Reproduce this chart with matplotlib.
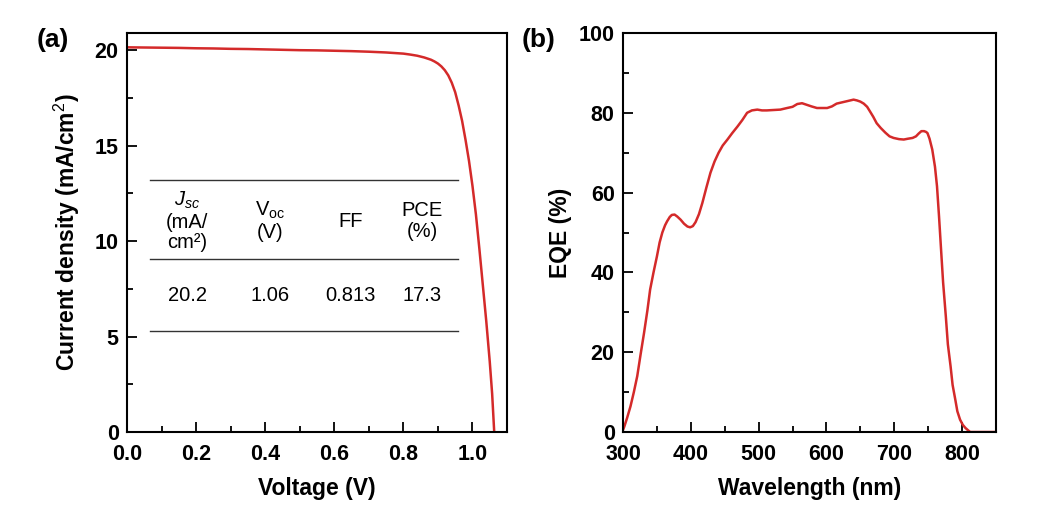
import matplotlib
matplotlib.use("Agg")
import matplotlib.pyplot as plt
from matplotlib.ticker import MultipleLocator

plt.rcParams["font.family"] = ["Liberation Sans", "DejaVu Sans"]
plt.rcParams["mathtext.fontset"] = "custom"
plt.rcParams["mathtext.rm"] = "Liberation Sans"
plt.rcParams["mathtext.it"] = "Liberation Sans:italic"
plt.rcParams["mathtext.bf"] = "Liberation Sans:bold"

# J-V curve (panel a)
voltage = [0.0, 0.05, 0.1, 0.15, 0.2, 0.25, 0.3, 0.35, 0.4, 0.45, 0.5, 0.55, 0.6,
           0.65, 0.7, 0.75, 0.8, 0.82, 0.84, 0.86, 0.88, 0.89, 0.9, 0.91, 0.92,
           0.93, 0.94, 0.95, 0.96, 0.97, 0.98, 0.99, 1.0, 1.01, 1.02, 1.03, 1.04,
           1.05, 1.057, 1.063]
current = [20.15, 20.14, 20.13, 20.12, 20.10, 20.09, 20.07, 20.06, 20.04, 20.02,
           20.00, 19.99, 19.97, 19.95, 19.92, 19.88, 19.82, 19.77, 19.71, 19.62,
           19.50, 19.41, 19.30, 19.15, 18.95, 18.68, 18.30, 17.80, 17.10, 16.30,
           15.30, 14.20, 12.90, 11.40, 9.60, 7.70, 5.80, 3.70, 2.00, 0.0]

# EQE spectrum (panel b)
wavelength = [300, 302, 306, 311, 316, 321, 326, 331, 336, 340, 345, 350, 354,
              358, 362, 365, 369, 372, 376, 380, 385, 390, 395, 399, 403, 407,
              412, 417, 423, 429, 435, 441, 447, 454, 461, 469, 476, 483, 490,
              498, 505, 512, 522, 532, 542, 550, 557, 564, 571, 578, 586, 593,
              601, 608, 615, 625, 635, 640, 645, 650, 655, 660, 664, 669, 674,
              680, 687, 693, 699, 707, 714, 720, 727, 732, 736, 740, 744, 747,
              749, 752, 756, 760, 763, 766, 769, 772, 776, 779, 783, 786, 790,
              793, 797, 801, 805, 809, 812, 820, 830, 840, 850]
eqe = [0.5, 1.4, 3.5, 6.4, 10.0, 14.0, 19.5, 24.8, 30.5, 35.7, 40.0, 44.0, 47.5,
       50.0, 51.8, 52.8, 53.9, 54.4, 54.5, 54.0, 53.2, 52.2, 51.5, 51.3, 51.6,
       52.6, 54.6, 57.4, 61.3, 65.0, 67.8, 70.0, 71.8, 73.3, 74.9, 76.6, 78.2,
       80.0, 80.6, 80.8, 80.6, 80.6, 80.7, 80.8, 81.2, 81.5, 82.2, 82.4, 82.0,
       81.6, 81.2, 81.2, 81.2, 81.6, 82.3, 82.7, 83.1, 83.3, 83.1, 82.8, 82.3,
       81.5, 80.4, 79.0, 77.4, 76.2, 75.0, 74.1, 73.7, 73.4, 73.3, 73.5, 73.7,
       74.1, 74.8, 75.4, 75.4, 75.2, 74.9, 73.5, 70.8, 66.5, 61.6, 54.0, 45.7,
       37.5, 29.0, 22.0, 16.5, 11.8, 8.1, 5.2, 3.1, 1.8, 1.0, 0.4, 0.0, 0.0,
       0.0, 0.0, 0.0]

# table in panel a
table_headers = [r"$J_{sc}$" + "\n(mA/\ncm²)", "V$_{\\mathrm{oc}}$\n(V)", "FF", "PCE\n(%)"]
table_values = ["20.2", "1.06", "0.813", "17.3"]
table_cols = [0.174, 0.414, 0.646, 0.855]

RED = "#d42a2a"

fig = plt.figure(figsize=(10.52, 5.17), dpi=100)
ax1 = fig.add_axes([127 / 1052, 1 - 432 / 517, 380 / 1052, 399 / 517])
ax2 = fig.add_axes([623 / 1052, 1 - 432 / 517, 373 / 1052, 399 / 517])

for ax in (ax1, ax2):
    ax.tick_params(which="both", direction="in", top=False, right=False,
                   labelsize=15.5, width=1.3)
    ax.tick_params(which="major", length=7)
    ax.tick_params(which="minor", length=4)
    ax.tick_params(axis="x", pad=8.5)
    ax.tick_params(axis="y", pad=6)
    for sp in ax.spines.values():
        sp.set_linewidth(1.5)

ax1.plot(voltage, current, color=RED, lw=1.8)
ax1.set_xlim(0, 1.1)
ax1.set_ylim(0, 20.9)
ax1.xaxis.set_minor_locator(MultipleLocator(0.1))
ax1.yaxis.set_minor_locator(MultipleLocator(2.5))
ax1.set_xticks([0, 0.2, 0.4, 0.6, 0.8, 1.0])
ax1.set_xticklabels(["0.0", "0.2", "0.4", "0.6", "0.8", "1.0"], fontweight="bold")
ax1.set_yticks([0, 5, 10, 15, 20])
ax1.set_yticklabels(["0", "5", "10", "15", "20"], fontweight="bold")
ax1.set_xlabel("Voltage (V)", fontsize=16.5, fontweight="bold", va="center")
ax1.set_ylabel("Current density (mA/cm$^{2}$)", fontsize=16.5, fontweight="bold",
               va="center")
ax1.xaxis.set_label_coords(0.5, -(488 - 432) / 399)
ax1.yaxis.set_label_coords((67 - 127) / 380, 0.5)

# table rules
for yv in (13.2, 9.06, 5.29):
    ax1.plot([0.067, 0.957], [yv, yv], color="#333333", lw=1.0)
for xc, head, val in zip(table_cols, table_headers, table_values):
    ax1.text(xc, 11.05, head, ha="center", va="center", fontsize=14.5,
             linespacing=1.12)
    ax1.text(xc, 7.17, val, ha="center", va="center", fontsize=14.5)

ax2.plot(wavelength, eqe, color=RED, lw=1.8)
ax2.set_xlim(300, 850)
ax2.set_ylim(0, 100)
ax2.xaxis.set_minor_locator(MultipleLocator(50))
ax2.yaxis.set_minor_locator(MultipleLocator(10))
ax2.set_xticks([300, 400, 500, 600, 700, 800])
ax2.set_xticklabels(["300", "400", "500", "600", "700", "800"], fontweight="bold")
ax2.set_yticks([0, 20, 40, 60, 80, 100])
ax2.set_yticklabels(["0", "20", "40", "60", "80", "100"], fontweight="bold")
ax2.set_xlabel("Wavelength (nm)", fontsize=16.5, fontweight="bold", va="center")
ax2.set_ylabel("EQE (%)", fontsize=16.5, fontweight="bold", va="center")
ax2.xaxis.set_label_coords(0.5, -(488 - 432) / 399)
ax2.yaxis.set_label_coords((560 - 623) / 373, 0.5)

fig.text(37 / 1052, 1 - 40 / 517, "(a)", fontsize=19, fontweight="bold",
         ha="left", va="center")
fig.text(522 / 1052, 1 - 40 / 517, "(b)", fontsize=19, fontweight="bold",
         ha="left", va="center")

fig.savefig("out.png", dpi=100)
